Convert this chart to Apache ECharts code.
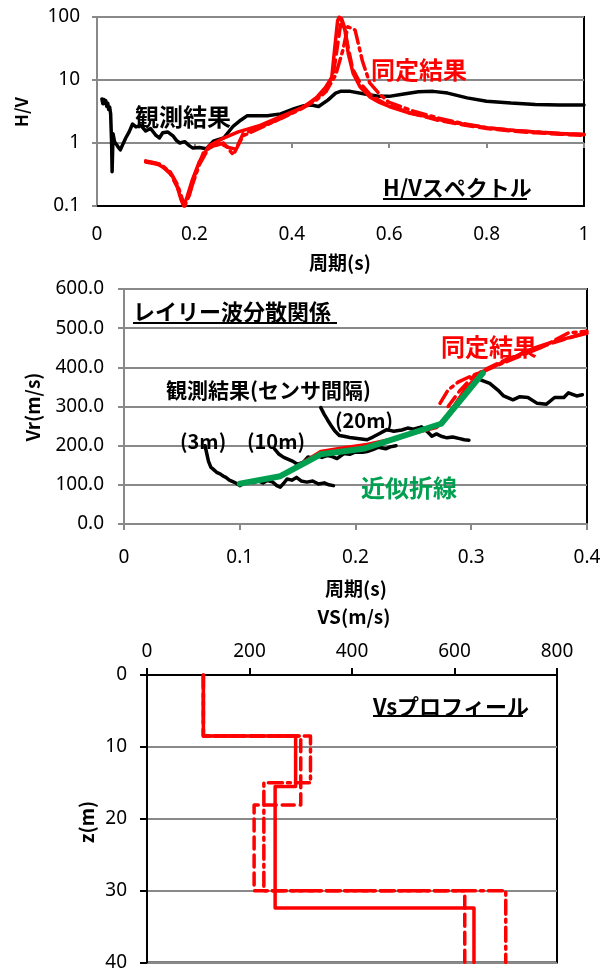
<!DOCTYPE html>
<html>
<head>
<meta charset="utf-8">
<script src="https://cdn.jsdelivr.net/npm/echarts@6/dist/echarts.min.js"></script>
<style>
html, body { margin: 0; padding: 0; background: #fff; }
#chart { width: 608px; height: 972px; }
</style>
</head>
<body>
<div id="chart"></div>
<script>
// H/V spectrum: observed
var hvObsPeriod = [0.010, 0.012, 0.014, 0.016, 0.018, 0.020, 0.022, 0.024, 0.026, 0.028, 0.030, 0.031, 0.033, 0.036, 0.040, 0.044, 0.048, 0.053, 0.059, 0.066, 0.073, 0.080, 0.090, 0.100, 0.110, 0.120, 0.128, 0.135, 0.145, 0.156, 0.163, 0.170, 0.180, 0.190, 0.197, 0.210, 0.225, 0.239, 0.260, 0.280, 0.295, 0.308, 0.330, 0.350, 0.377, 0.405, 0.425, 0.440, 0.455, 0.474, 0.490, 0.500, 0.520, 0.550, 0.580, 0.600, 0.630, 0.660, 0.690, 0.720, 0.760, 0.800, 0.850, 0.900, 0.950, 1.000];
var hvObsRatio = [5.0, 4.2, 4.9, 4.3, 4.7, 3.8, 4.3, 3.4, 3.7, 2.9, 1.0, 0.35, 1.4, 1.05, 0.95, 0.85, 0.78, 0.95, 1.2, 1.5, 2.0, 1.8, 1.9, 1.55, 1.7, 1.35, 1.2, 1.45, 1.5, 1.3, 1.1, 1.0, 1.05, 0.9, 0.83, 0.85, 0.81, 1.07, 1.2, 1.86, 2.3, 2.7, 2.7, 2.7, 2.9, 3.5, 3.9, 4.0, 3.8, 4.8, 6.2, 6.6, 6.6, 6.0, 5.5, 5.5, 6.0, 6.5, 6.6, 6.2, 5.2, 4.6, 4.3, 4.1, 4.0, 4.0];

// H/V spectrum: identified models (solid, dashed, dash-dot)
var hvFitPeriod = [0.10, 0.12, 0.14, 0.155, 0.165, 0.172, 0.178, 0.185, 0.195, 0.21, 0.23, 0.26, 0.29, 0.335, 0.376, 0.424, 0.451, 0.47, 0.482, 0.489, 0.494, 0.4975, 0.503, 0.509, 0.516, 0.526, 0.54, 0.56, 0.58, 0.60, 0.64, 0.68, 0.72, 0.76, 0.80, 0.85, 0.90, 0.95, 1.00];
var hvFitRatio = [0.51, 0.48, 0.40, 0.30, 0.20, 0.13, 0.10, 0.14, 0.25, 0.50, 0.90, 1.20, 1.50, 1.90, 2.6, 3.7, 5.3, 7.8, 11, 37, 87, 100, 85, 62, 26, 12.7, 7.8, 5.4, 4.4, 3.8, 3.0, 2.6, 2.2, 1.95, 1.75, 1.6, 1.5, 1.42, 1.36];
var hvDashPeriod = [0.10, 0.13, 0.15, 0.165, 0.175, 0.18, 0.19, 0.20, 0.22, 0.25, 0.27, 0.285, 0.30, 0.34, 0.38, 0.42, 0.45, 0.47, 0.485, 0.495, 0.502, 0.508, 0.515, 0.525, 0.54, 0.56, 0.58, 0.60, 0.65, 0.70, 0.75, 0.80, 0.85, 0.90, 0.95, 1.00];
var hvDashRatio = [0.50, 0.45, 0.33, 0.20, 0.12, 0.10, 0.15, 0.30, 0.75, 1.0, 0.85, 0.80, 1.4, 1.85, 2.5, 3.6, 5.0, 7.2, 12, 40, 95, 70, 35, 15, 9, 6, 4.7, 3.9, 2.9, 2.3, 1.95, 1.7, 1.55, 1.45, 1.38, 1.32];
var hvDotPeriod = [0.10, 0.13, 0.15, 0.165, 0.175, 0.18, 0.19, 0.21, 0.23, 0.26, 0.28, 0.30, 0.34, 0.38, 0.42, 0.45, 0.47, 0.49, 0.505, 0.515, 0.53, 0.545, 0.56, 0.58, 0.60, 0.65, 0.70, 0.75, 0.80, 0.85, 0.90, 0.95, 1.00];
var hvDotRatio = [0.52, 0.46, 0.35, 0.22, 0.13, 0.10, 0.16, 0.45, 0.85, 1.0, 0.65, 1.3, 1.8, 2.5, 3.5, 4.8, 6.5, 12, 30, 70, 62, 20, 9, 6, 4.4, 3.2, 2.5, 2.05, 1.75, 1.6, 1.5, 1.42, 1.36];

// Rayleigh dispersion: observed per sensor spacing
var obs3mPeriod = [0.070, 0.0715, 0.073, 0.075, 0.077, 0.080, 0.083, 0.086, 0.088, 0.091, 0.094, 0.097, 0.100, 0.104, 0.108, 0.112, 0.116, 0.120, 0.124, 0.128, 0.132, 0.135, 0.138, 0.141, 0.145, 0.149, 0.153, 0.158, 0.163, 0.168, 0.173, 0.177, 0.181];
var obs3mVr = [200, 180, 160, 145, 140, 132, 128, 122, 119, 112, 108, 104, 98, 104, 108, 106, 110, 105, 111, 108, 98, 94, 104, 115, 112, 119, 110, 107, 110, 102, 105, 100, 98];
var obs10mPeriod = [0.130, 0.134, 0.138, 0.142, 0.146, 0.150, 0.155, 0.159, 0.163, 0.167, 0.171, 0.176, 0.180, 0.184, 0.190, 0.195, 0.200, 0.206, 0.210, 0.215, 0.220, 0.226, 0.230, 0.235];
var obs10mVr = [192, 178, 170, 165, 160, 152, 158, 171, 168, 174, 170, 175, 172, 167, 180, 178, 184, 183, 185, 190, 196, 192, 197, 200];
var obs20mPeriod = [0.170, 0.173, 0.176, 0.179, 0.182, 0.186, 0.190, 0.195, 0.200, 0.205, 0.210, 0.215, 0.220, 0.227, 0.233, 0.240, 0.245, 0.250, 0.257, 0.262, 0.266, 0.270, 0.274, 0.279, 0.284, 0.290, 0.294, 0.298];
var obs20mVr = [297, 280, 265, 251, 238, 226, 224, 221, 219, 217, 215, 222, 230, 241, 237, 240, 245, 242, 248, 236, 224, 230, 224, 220, 222, 218, 215, 214];
var obsFarPeriod = [0.308, 0.316, 0.323, 0.328, 0.336, 0.342, 0.349, 0.357, 0.365, 0.372, 0.380, 0.384, 0.391, 0.396];
var obsFarVr = [368, 359, 342, 327, 317, 325, 323, 308, 306, 323, 323, 335, 327, 330];

// Rayleigh dispersion: identified and fitted polyline
var vrFitPeriod = [0.14, 0.155, 0.17, 0.19, 0.21, 0.23, 0.25, 0.27, 0.276, 0.286, 0.296, 0.31, 0.325, 0.34, 0.354, 0.365, 0.377, 0.39, 0.40];
var vrFitVr = [130, 158, 185, 195, 203, 216, 232, 246, 265, 305, 350, 388, 410, 430, 449, 460, 470, 480, 487];
var vrDashPeriod = [0.28, 0.29, 0.30, 0.31, 0.33, 0.35, 0.37, 0.39, 0.40];
var vrDashVr = [300, 340, 372, 392, 420, 441, 462, 480, 488];
var vrDotPeriod = [0.273, 0.28, 0.289, 0.30, 0.32, 0.34, 0.36, 0.384, 0.40];
var vrDotVr = [308, 342, 363, 378, 402, 426, 450, 488, 492];
var lineFitPeriod = [0.10, 0.135, 0.17, 0.208, 0.274, 0.31];
var lineFitVr = [103, 122, 178, 193, 256, 385];

// Vs profile layers (top depth, Vs)
var layerTop = [0, 8.5, 15.5, 32.4];
var layerVs = [110, 290, 250, 638];
var layerTopDash = [0, 8.5, 18.1, 30.0];
var layerVsDash = [110, 300, 209, 620];
var layerTopDot = [0, 8.5, 15.0, 30.0];
var layerVsDot = [110, 319, 228, 700];
var profileBottom = 40;

function pairs(xs, ys) {
  return xs.map(function (x, i) { return [x, ys[i]] })
}

function steps(tops, vs, bottom) {
  var pts = []
  for (var i = 0; i < tops.length; i++) {
    var end = i + 1 < tops.length ? tops[i + 1] : bottom
    pts.push([vs[i], tops[i]], [vs[i], end])
  }
  return pts
}

var GRAY = '#898989'
var RED = '#ff0000'
var GREEN = '#00a050'
var NUM_FONT = '"Noto Sans", "Liberation Sans", sans-serif'
var JP = '"Noto Sans CJK JP", sans-serif'
var DASH = [12, 6]
var DASHDOT = [14, 5, 3, 5]

function line(name, data, xi, yi, color, width, type, z) {
  return {
    name: name, type: 'line', data: data, xAxisIndex: xi, yAxisIndex: yi,
    showSymbol: false, symbol: 'none', z: z || 2,
    lineStyle: { color: color, width: width, type: type || 'solid', cap: 'round', join: 'round' }
  }
}

function label(text, x, y, size, color) {
  return {
    type: 'text', x: x, y: y, z: 100,
    style: { text: text, font: 'bold ' + size + 'px ' + JP, fill: color || '#000', textVerticalAlign: 'middle' }
  }
}

function underline(x1, x2, y) {
  return { type: 'line', z: 100, shape: { x1: x1, y1: y, x2: x2, y2: y }, style: { stroke: '#000', lineWidth: 2 } }
}

function vtitle(text, x, y, size) {
  return {
    type: 'text', x: x, y: y, rotation: Math.PI / 2, z: 100,
    style: { text: text, font: 'bold ' + size + 'px ' + JP, fill: '#000', textAlign: 'center', textVerticalAlign: 'middle' }
  }
}

function htitle(text, x, y, size) {
  return {
    type: 'text', x: x, y: y, z: 100,
    style: { text: text, font: 'bold ' + size + 'px ' + JP, fill: '#000', textAlign: 'center', textVerticalAlign: 'middle' }
  }
}

var numLabel = { color: '#000', fontSize: 19, fontFamily: NUM_FONT }

var option = {
  animation: false,
  backgroundColor: '#fff',
  textStyle: { fontFamily: NUM_FONT },
  grid: [
    { left: 97, top: 17, width: 487, height: 189, show: true, borderColor: '#000', borderWidth: 2, backgroundColor: 'transparent' },
    { left: 124, top: 289, width: 463, height: 235, show: true, borderColor: '#000', borderWidth: 2, backgroundColor: 'transparent' },
    { left: 147, top: 675, width: 410, height: 293, show: true, borderColor: '#000', borderWidth: 2, backgroundColor: 'transparent' },
    // helper grid: its bottom edge sits on H/V = 1, where the period ticks are drawn
    { left: 97, top: 17, width: 487, height: 126, show: false }
  ],
  xAxis: [
    {
      gridIndex: 0, type: 'value', min: 0, max: 1, interval: 0.2,
      axisLine: { show: true, onZero: false, lineStyle: { color: '#000', width: 2 } },
      axisTick: { show: false }, splitLine: { show: false },
      axisLabel: Object.assign({ margin: 19 }, numLabel)
    },
    {
      gridIndex: 3, type: 'value', min: 0, max: 1, interval: 0.2, position: 'bottom',
      axisLine: { show: false }, axisLabel: { show: false }, splitLine: { show: false },
      axisTick: { show: true, length: 5, lineStyle: { color: GRAY, width: 2 } }
    },
    {
      gridIndex: 1, type: 'value', min: 0, max: 0.4, interval: 0.1,
      axisLine: { show: true, onZero: false, lineStyle: { color: GRAY, width: 2 } },
      axisTick: { show: true, length: 6, lineStyle: { color: GRAY, width: 2 } }, splitLine: { show: false },
      axisLabel: Object.assign({ margin: 24 }, numLabel)
    },
    {
      gridIndex: 2, type: 'value', min: 0, max: 800, interval: 200, position: 'top',
      axisLine: { show: true, onZero: false, lineStyle: { color: '#000', width: 2 } },
      axisTick: { show: true, length: 7, lineStyle: { color: '#000', width: 2 } }, splitLine: { show: false },
      axisLabel: Object.assign({ margin: 14 }, numLabel)
    }
  ],
  yAxis: [
    {
      gridIndex: 0, type: 'log', logBase: 10, min: 0.1, max: 100,
      axisLine: { show: true, onZero: false, lineStyle: { color: GRAY, width: 2 } },
      axisTick: { show: true, length: 5, lineStyle: { color: GRAY, width: 2 } },
      splitLine: { show: true, lineStyle: { color: GRAY, width: 2 } },
      axisLabel: Object.assign({
        margin: 17,
        formatter: function (v) { return v < 0.5 ? '0.1' : String(Math.round(v)) }
      }, numLabel)
    },
    {
      gridIndex: 1, type: 'value', min: 0, max: 600, interval: 100,
      axisLine: { show: true, onZero: false, lineStyle: { color: GRAY, width: 2 } },
      axisTick: { show: true, length: 6, lineStyle: { color: GRAY, width: 2 } },
      splitLine: { show: true, lineStyle: { color: GRAY, width: 2 } },
      axisLabel: Object.assign({
        margin: 20,
        formatter: function (v) { return v.toFixed(1) }
      }, numLabel)
    },
    {
      gridIndex: 2, type: 'value', min: 0, max: 40, interval: 10, inverse: true,
      axisLine: { show: true, onZero: false, lineStyle: { color: '#000', width: 2 } },
      axisTick: { show: true, length: 7, lineStyle: { color: '#000', width: 2 } },
      splitLine: { show: true, lineStyle: { color: GRAY, width: 2 } },
      axisLabel: Object.assign({ margin: 20 }, numLabel)
    },
    {
      gridIndex: 3, type: 'value', min: 0, max: 1, show: false
    }
  ],
  series: [
    // panel 1
    line('観測結果', pairs(hvObsPeriod, hvObsRatio), 0, 0, '#000', 3.5, 'solid', 2),
    line('同定結果(破線)', pairs(hvDashPeriod, hvDashRatio), 0, 0, RED, 3.5, DASH, 3),
    line('同定結果(一点鎖線)', pairs(hvDotPeriod, hvDotRatio), 0, 0, RED, 3.5, DASHDOT, 3),
    line('同定結果', pairs(hvFitPeriod, hvFitRatio), 0, 0, RED, 3.5, 'solid', 4),
    // panel 2
    line('3m', pairs(obs3mPeriod, obs3mVr), 2, 1, '#000', 3.5, 'solid', 2),
    line('10m', pairs(obs10mPeriod, obs10mVr), 2, 1, '#000', 3.5, 'solid', 2),
    line('20m', pairs(obs20mPeriod, obs20mVr), 2, 1, '#000', 3.5, 'solid', 2),
    line('far', pairs(obsFarPeriod, obsFarVr), 2, 1, '#000', 3.5, 'solid', 2),
    line('同定結果(破線)', pairs(vrDashPeriod, vrDashVr), 2, 1, RED, 3.5, DASH, 3),
    line('同定結果(一点鎖線)', pairs(vrDotPeriod, vrDotVr), 2, 1, RED, 3.5, DASHDOT, 3),
    line('同定結果', pairs(vrFitPeriod, vrFitVr), 2, 1, RED, 3.5, 'solid', 4),
    line('近似折線', pairs(lineFitPeriod, lineFitVr), 2, 1, GREEN, 6, 'solid', 5),
    // panel 3
    line('Vs破線', steps(layerTopDash, layerVsDash, profileBottom), 3, 2, RED, 3.5, DASH, 3),
    line('Vs一点鎖線', steps(layerTopDot, layerVsDot, profileBottom), 3, 2, RED, 3.5, DASHDOT, 3),
    line('Vs', steps(layerTop, layerVs, profileBottom), 3, 2, RED, 3.5, 'solid', 4)
  ],
  graphic: [
    // panel 1
    vtitle('H/V', 22, 112, 17),
    htitle('周期(s)', 340, 263, 19),
    label('観測結果', 135, 117, 24),
    label('同定結果', 371, 70, 24, RED),
    label('H/Vスペクトル', 383, 188, 22),
    underline(383, 527, 199),
    // panel 2
    vtitle('Vr(m/s)', 33, 407, 19),
    htitle('周期(s)', 356, 589, 19),
    label('レイリー波分散関係', 133, 312, 22),
    underline(133, 337, 323),
    label('同定結果', 441, 347, 24, RED),
    label('観測結果(センサ間隔)', 166, 390, 21),
    label('(20m)', 335, 420, 20),
    label('(3m)', 180, 441, 20),
    label('(10m)', 247, 441, 20),
    label('近似折線', 361, 488, 24, GREEN),
    // panel 3
    htitle('VS(m/s)', 354, 617, 19),
    vtitle('z(m)', 87, 822, 19),
    label('Vsプロフィール', 373, 707, 22),
    underline(373, 523, 716)
  ]
}

var chart = echarts.init(document.getElementById('chart'))
chart.setOption(option)
</script>
</body>
</html>
